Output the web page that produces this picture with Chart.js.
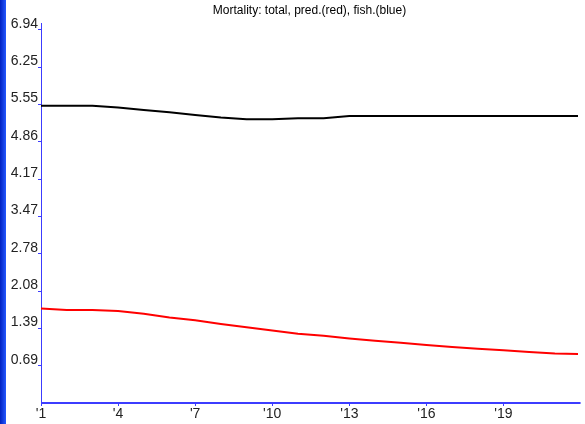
<!DOCTYPE html>
<html>
<head>
<meta charset="utf-8">
<script src="https://cdn.jsdelivr.net/npm/chart.js@4/dist/chart.umd.min.js"></script>
<style>
  html, body { margin: 0; padding: 0; background: #fff; }
  #wrap { width: 585px; height: 424px; }
</style>
</head>
<body>
<div id="wrap"><canvas id="myChart" width="585" height="424"></canvas></div>
<script>
const years = [1, 2, 3, 4, 5, 6, 7, 8, 9, 10, 11, 12, 13, 14, 15, 16, 17, 18, 19, 20, 21, 22];
const total = [5.53, 5.53, 5.53, 5.50, 5.45, 5.41, 5.36, 5.31, 5.28, 5.28, 5.30, 5.30, 5.34, 5.34, 5.34, 5.34, 5.34, 5.34, 5.34, 5.34, 5.34, 5.34];
const pred = [1.76, 1.73, 1.73, 1.71, 1.66, 1.59, 1.54, 1.47, 1.41, 1.35, 1.29, 1.25, 1.20, 1.16, 1.12, 1.08, 1.04, 1.01, 0.98, 0.95, 0.92, 0.91];
const fish = [0, 0, 0, 0, 0, 0, 0, 0, 0, 0, 0, 0, 0, 0, 0, 0, 0, 0, 0, 0, 0, 0];
const xTicks = [1, 4, 7, 10, 13, 16, 19];
const yTickValues = [0.694, 1.388, 2.082, 2.776, 3.47, 4.164, 4.858, 5.552, 6.246, 6.94];
const yTickLabels = ['0.69', '1.39', '2.08', '2.78', '3.47', '4.17', '4.86', '5.55', '6.25', '6.94'];

const axisBlue = '#3c3cff';

// blue strip down the left edge
const leftStrip = {
  id: 'leftStrip',
  beforeDraw(chart) {
    const c = chart.ctx;
    const g = c.createLinearGradient(0, 0, 6, 0);
    g.addColorStop(0, '#0020c0');
    g.addColorStop(1, '#2458ff');
    c.save();
    c.fillStyle = g;
    c.fillRect(0, 0, 6, chart.height);
    c.restore();
  }
};

const ctx = document.getElementById('myChart').getContext('2d');
const myChart = new Chart(ctx, {
  type: 'line',
  data: {
    datasets: [{
      label: 'total',
      data: years.map((y, i) => ({ x: y, y: total[i] })),
      borderColor: '#000000',
      borderWidth: 2,
      pointRadius: 0,
      tension: 0
    },
    {
      label: 'pred.',
      data: years.map((y, i) => ({ x: y, y: pred[i] })),
      borderColor: '#ff0000',
      borderWidth: 2,
      pointRadius: 0,
      tension: 0
    },
    {
      label: 'fish.',
      data: years.map((y, i) => ({ x: y, y: fish[i] })),
      borderColor: axisBlue,
      borderWidth: 2,
      pointRadius: 0,
      tension: 0,
      clip: 3
    }]
  },
  plugins: [leftStrip],
  options: {
    responsive: false,
    animation: false,
    layout: { padding: { left: 0, right: 7, top: 0, bottom: 0 } },
    plugins: {
      legend: { display: false },
      tooltip: { enabled: false },
      title: {
        display: true,
        fullSize: false,
        text: 'Mortality: total, pred.(red), fish.(blue)',
        color: '#000',
        font: { family: 'Liberation Sans', size: 12, weight: 'normal' },
        padding: { top: 3, bottom: 5.6 }
      }
    },
    scales: {
      x: {
        type: 'linear',
        min: 1,
        max: 21.9,
        afterBuildTicks: (scale) => { scale.ticks = xTicks.map(v => ({ value: v })); },
        afterFit: (scale) => { scale.height = 21; },
        border: { color: axisBlue, width: 1 },
        grid: { drawOnChartArea: false, color: axisBlue, tickLength: 3 },
        ticks: {
          color: '#222',
          padding: 0,
          maxRotation: 0,
          font: { family: 'Liberation Sans', size: 14 },
          callback: (v) => "'" + v
        }
      },
      y: {
        min: 0,
        max: 7.07,
        afterBuildTicks: (scale) => { scale.ticks = yTickValues.map(v => ({ value: v })); },
        afterFit: (scale) => { scale.width = 41; },
        border: { color: axisBlue, width: 1 },
        grid: { drawOnChartArea: false, color: axisBlue, tickLength: 3 },
        ticks: {
          color: '#222',
          padding: 0,
          labelOffset: -6,
          font: { family: 'Liberation Sans', size: 14 },
          callback: (v, i) => yTickLabels[i]
        }
      }
    }
  }
});
</script>
</body>
</html>
